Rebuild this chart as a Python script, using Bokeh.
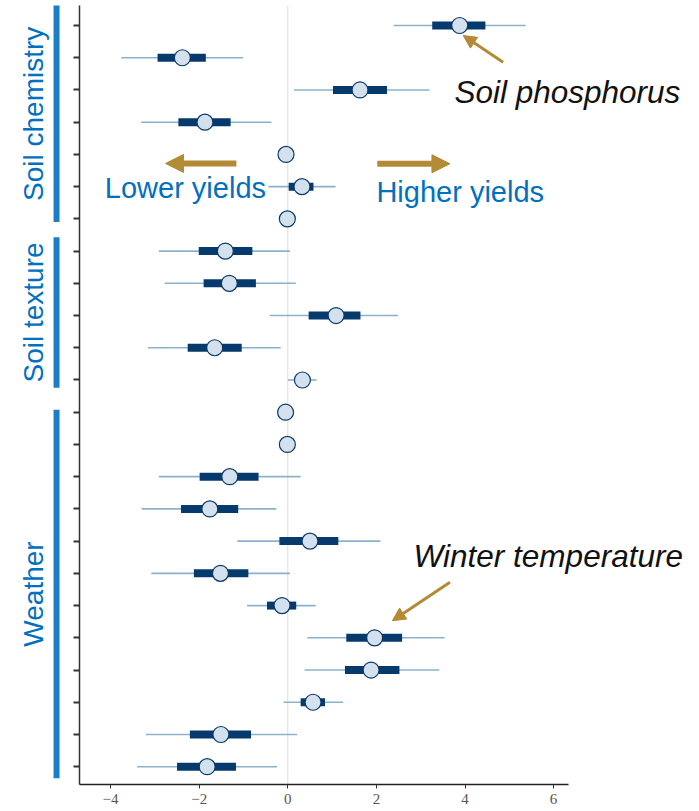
import math
from bokeh.plotting import figure
from bokeh.models import (ColumnDataSource, Range1d, FixedTicker, Label, Arrow,
                          NormalHead, LinearAxis)
from bokeh.embed import file_html
from bokeh.resources import INLINE

nan = float("nan")

# Posterior summaries per predictor, listed from the top row to the bottom row
estimate = [3.88, -2.38, 1.63, -1.87, -0.04, 0.32, -0.01,
            -1.41, -1.32, 1.09, -1.65, 0.33,
            -0.05, -0.01, -1.31, -1.76, 0.50, -1.52, -0.13, 1.96, 1.88, 0.57, -1.51, -1.82]
inner_lo = [3.26, -2.94, 1.02, -2.47, nan, 0.02, nan,
            -2.01, -1.90, 0.47, -2.26, 0.20,
            nan, nan, -1.99, -2.41, -0.19, -2.12, -0.47, 1.32, 1.29, 0.29, -2.21, -2.50]
inner_hi = [4.46, -1.85, 2.24, -1.29, nan, 0.58, nan,
            -0.80, -0.72, 1.64, -1.04, 0.46,
            nan, nan, -0.66, -1.12, 1.14, -0.89, 0.19, 2.58, 2.52, 0.84, -0.83, -1.17]
outer_lo = [2.39, -3.76, 0.14, -3.31, nan, -0.44, nan,
            -2.91, -2.78, -0.41, -3.16, 0.00,
            nan, nan, -2.91, -3.30, -1.14, -3.08, -0.92, 0.44, 0.38, -0.10, -3.20, -3.40]
outer_hi = [5.37, -1.01, 3.20, -0.37, nan, 1.08, nan,
            0.05, 0.18, 2.49, -0.16, 0.65,
            nan, nan, 0.29, -0.26, 2.09, 0.05, 0.63, 3.54, 3.42, 1.25, 0.21, -0.24]

# Predictor groups and the span of rows their side bar covers
group_names = ["Soil chemistry", "Soil texture", "Weather"]
group_bar_top = [-0.62, 6.57, 11.92]
group_bar_bottom = [6.10, 11.24, 23.36]

x_ticks = [-4, -2, 0, 2, 4, 6]

# panel limits of the effect axis and the row axis
X_LEFT, X_RIGHT = -4.70, 6.34
Y_TOP, Y_BOTTOM = -0.62, 23.56

rows = list(range(len(estimate)))
src = ColumnDataSource(dict(row=rows, est=estimate, ilo=inner_lo, ihi=inner_hi,
                            olo=outer_lo, ohi=outer_hi))

# the frame fills the canvas so that side labels and callouts are not cut off
p = figure(width=699, height=811, output_backend="svg", toolbar_location=None,
           x_range=Range1d(-6.485, 9.293), y_range=Range1d(24.39, -0.776),
           x_axis_location=None, y_axis_location=None,
           min_border=0)
p.outline_line_color = None
p.xgrid.visible = False
p.ygrid.visible = False
p.background_fill_color = "white"
p.border_fill_color = "white"

# zero reference line
p.segment(x0=[0], x1=[0], y0=[Y_TOP], y1=[Y_BOTTOM], line_color="#dcdcdc", line_width=1)

# intervals and point estimates
p.segment(x0="olo", x1="ohi", y0="row", y1="row", source=src,
          line_color="#8cb2cb", line_width=1.6)
p.segment(x0="ilo", x1="ihi", y0="row", y1="row", source=src,
          line_color="#073a6c", line_width=8, line_cap="butt")
p.scatter(x="est", y="row", source=src, marker="circle", size=16,
          fill_color="#d2e1ed", line_color="#0b3866", line_width=1.2)

# effect axis
xaxis = LinearAxis(fixed_location=Y_BOTTOM, bounds=(X_LEFT, X_RIGHT),
                   ticker=FixedTicker(ticks=x_ticks))
xaxis.axis_line_color = "#222222"
xaxis.axis_line_width = 1.5
xaxis.major_tick_in = 0
xaxis.major_tick_out = 4
xaxis.major_tick_line_color = "#333333"
xaxis.minor_tick_line_color = None
xaxis.major_label_standoff = 5
xaxis.major_label_text_font = "Liberation Serif"
xaxis.major_label_text_font_size = "15px"
xaxis.major_label_text_color = "#5a5550"
p.add_layout(xaxis, "below")

# row axis: ticks only
yaxis = LinearAxis(fixed_location=X_LEFT, bounds=(Y_TOP, Y_BOTTOM),
                   ticker=FixedTicker(ticks=rows))
yaxis.axis_line_color = "#333333"
yaxis.axis_line_width = 1.5
yaxis.major_tick_in = 0
yaxis.major_tick_out = 6
yaxis.major_tick_line_width = 2
yaxis.major_tick_line_color = "#333333"
yaxis.minor_tick_line_color = None
yaxis.major_label_overrides = {r: "" for r in rows}
p.add_layout(yaxis, "left")

# group bars and rotated group names on the left
blue = "#0070c0"
bar_x = -5.22
label_x = -5.73
p.segment(x0=[bar_x] * 3, x1=[bar_x] * 3, y0=group_bar_top, y1=group_bar_bottom,
          line_color="#1a7fc8", line_width=6, line_cap="butt")
for name, top, bottom in zip(group_names, group_bar_top, group_bar_bottom):
    p.add_layout(Label(x=label_x, y=(top + bottom) / 2, text=name, angle=math.pi / 2,
                       text_align="center", text_baseline="middle",
                       text_font="Liberation Sans", text_font_size="28px",
                       text_color=blue))

# direction arrows and captions
gold = "#b38b36"
p.add_layout(Arrow(x_start=-1.16, y_start=4.28, x_end=-2.76, y_end=4.28,
                   line_color=gold, line_width=6,
                   end=NormalHead(size=18, fill_color=gold, line_color=gold)))
p.add_layout(Arrow(x_start=2.02, y_start=4.29, x_end=3.66, y_end=4.29,
                   line_color=gold, line_width=6,
                   end=NormalHead(size=18, fill_color=gold, line_color=gold)))
p.add_layout(Label(x=-4.13, y=5.03, text="Lower yields", text_align="left",
                   text_baseline="alphabetic", text_font="Liberation Sans",
                   text_font_size="29px", text_color=blue))
p.add_layout(Label(x=2.00, y=5.17, text="Higher yields", text_align="left",
                   text_baseline="alphabetic", text_font="Liberation Sans",
                   text_font_size="29px", text_color=blue))

# callouts
p.add_layout(Arrow(x_start=4.86, y_start=1.14, x_end=3.96, y_end=0.31,
                   line_color=gold, line_width=3,
                   end=NormalHead(size=13, fill_color=gold, line_color=gold)))
p.add_layout(Label(x=3.76, y=2.07, text="Soil phosphorus", text_align="left",
                   text_baseline="alphabetic", text_font="Liberation Sans",
                   text_font_style="italic", text_font_size="31.5px", text_color="#111111"))
p.add_layout(Arrow(x_start=3.66, y_start=17.28, x_end=2.36, y_end=18.47,
                   line_color=gold, line_width=3,
                   end=NormalHead(size=13, fill_color=gold, line_color=gold)))
p.add_layout(Label(x=2.84, y=16.45, text="Winter temperature", text_align="left",
                   text_baseline="alphabetic", text_font="Liberation Sans",
                   text_font_style="italic", text_font_size="31.5px", text_color="#111111"))

open("out.html", "w").write(file_html(p, INLINE))
